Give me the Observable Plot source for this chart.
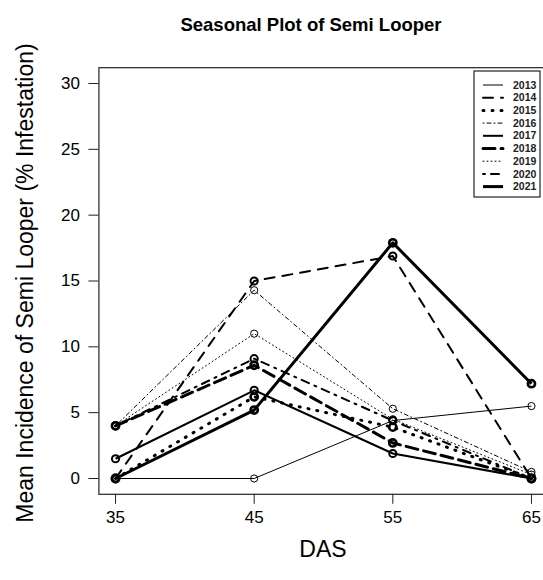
<!DOCTYPE html>
<html>
<head>
<meta charset="utf-8">
<script src="https://cdn.jsdelivr.net/npm/d3@7"></script>
<script src="https://cdn.jsdelivr.net/npm/@observablehq/plot@0.6"></script>
<style>
html, body { margin: 0; padding: 0; background: #fff; overflow: hidden; }
#chart svg { display: block; }
</style>
</head>
<body>
<div id="chart"></div>
<script>
// ---- data ----
const das = [35, 45, 55, 65];
const years = ["2013", "2014", "2015", "2016", "2017", "2018", "2019", "2020", "2021"];
const y2013 = [0.0, 0.0, 4.4, 5.5];
const y2014 = [0.0, 15.0, 16.9, 0.0];
const y2015 = [0.0, 6.2, 3.9, 0.0];
const y2016 = [4.0, 14.3, 5.3, 0.5];
const y2017 = [1.5, 6.7, 1.9, 0.0];
const y2018 = [4.0, 8.6, 2.7, 0.0];
const y2019 = [4.0, 11.0, 4.5, 0.3];
const y2020 = [4.0, 9.1, 4.4, 0.0];
const y2021 = [0.0, 5.2, 17.9, 7.2];
const yTicks = [0, 5, 10, 15, 20, 25, 30];

const seriesValues = {
  "2013": y2013, "2014": y2014, "2015": y2015, "2016": y2016, "2017": y2017,
  "2018": y2018, "2019": y2019, "2020": y2020, "2021": y2021
};

// ---- styles (R-like lty / lwd) ----
const styleOf = {
  "2013": {w: 1, dash: null},
  "2014": {w: 2, dash: "10,8"},
  "2015": {w: 3, dash: "1,8"},
  "2016": {w: 1, dash: "1,3,4,3"},
  "2017": {w: 2, dash: null},
  "2018": {w: 3, dash: "12,6"},
  "2019": {w: 1, dash: "1,3"},
  "2020": {w: 2, dash: "2,6,8,6"},
  "2021": {w: 3, dash: null}
};

const rows = years.map(yr => das.map((d, i) => ({year: yr, das: d, value: seriesValues[yr][i]})));

const font = "'Liberation Sans', Arial, Helvetica, sans-serif";
const W = 543, H = 580;

const marks = [];
rows.forEach((r, k) => {
  const s = styleOf[years[k]];
  marks.push(Plot.line(r, {
    x: "das", y: "value", stroke: "black", strokeWidth: s.w,
    strokeDasharray: s.dash || undefined,
    strokeLinecap: s.dash ? "round" : "butt"
  }));
});
rows.forEach((r, k) => {
  const s = styleOf[years[k]];
  marks.push(Plot.dot(r, {
    x: "das", y: "value", r: 3.6, stroke: "black", fill: "none",
    strokeWidth: Math.min(s.w, 2.6)
  }));
});

const plot = Plot.plot({
  width: W,
  height: H,
  marginLeft: 98.4,
  marginRight: -4.6,
  marginTop: 67.2,
  marginBottom: 86.2,
  style: {fontFamily: font, background: "white", color: "black", overflow: "hidden"},
  x: {domain: [33.8, 66.2]},
  y: {domain: [-1.2, 31.2]},
  marks: [
    Plot.frame({stroke: "#222", strokeWidth: 1.2}),
    Plot.axisX(das, {tickSize: 10, tickPadding: 7, fontSize: 17, label: null, stroke: "#222"}),
    Plot.axisY(yTicks, {tickSize: 10, tickPadding: 9, fontSize: 17, label: null, stroke: "#222"}),
    ...marks
  ]
});

document.getElementById("chart").appendChild(plot);

// ---- titles and legend ----
const svg = d3.select(plot);

svg.append("text")
  .attr("x", 311).attr("y", 31)
  .attr("text-anchor", "middle")
  .attr("font-family", font).attr("font-weight", "bold").attr("font-size", 18.5)
  .attr("fill", "black")
  .text("Seasonal Plot of Semi Looper");

svg.append("text")
  .attr("x", 323).attr("y", 557)
  .attr("text-anchor", "middle")
  .attr("font-family", font).attr("font-size", 23)
  .attr("fill", "black")
  .text("DAS");

svg.append("text")
  .attr("transform", "translate(33,283) rotate(-90)")
  .attr("text-anchor", "middle")
  .attr("font-family", font).attr("font-size", 23)
  .attr("fill", "black")
  .text("Mean Incidence of Semi Looper (% Infestation)");

const lg = svg.append("g");
lg.append("rect")
  .attr("x", 474).attr("y", 71).attr("width", 66).attr("height", 126)
  .attr("fill", "white").attr("stroke", "#222").attr("stroke-width", 1.2);
years.forEach((yr, i) => {
  const s = styleOf[yr];
  const yy = 85 + i * 12.7;
  lg.append("line")
    .attr("x1", 483).attr("x2", 503).attr("y1", yy).attr("y2", yy)
    .attr("stroke", "black").attr("stroke-width", s.w)
    .attr("stroke-dasharray", s.dash)
    .attr("stroke-linecap", s.dash ? "round" : "butt");
  lg.append("text")
    .attr("x", 513).attr("y", yy + 3.6)
    .attr("text-anchor", "start")
    .attr("font-family", font).attr("font-size", 10.5).attr("font-weight", "bold")
    .attr("fill", "#222")
    .text(yr);
});
</script>
</body>
</html>
